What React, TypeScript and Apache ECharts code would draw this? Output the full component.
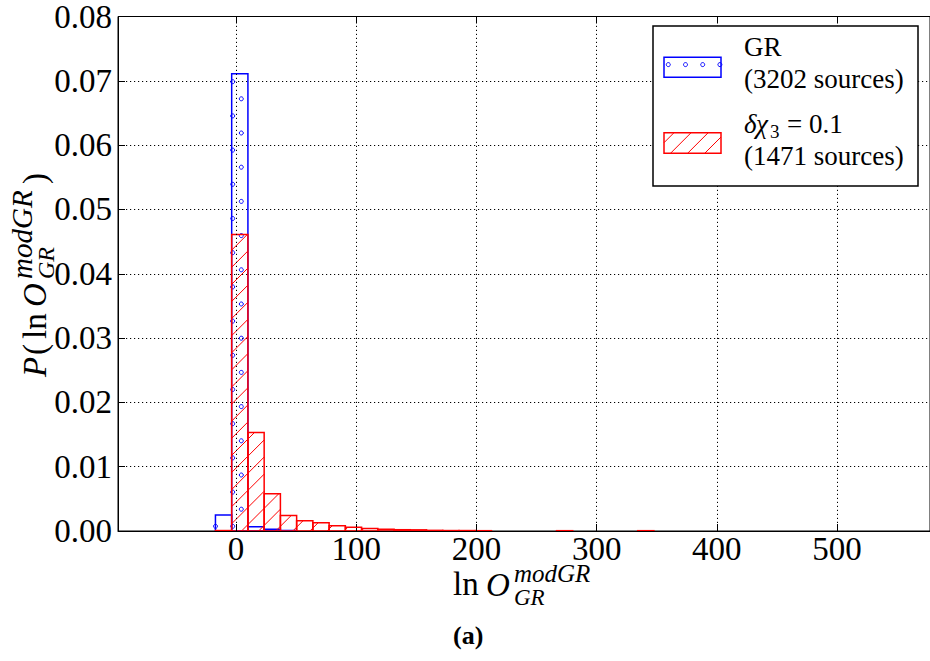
import React, { useEffect, useRef } from 'react';
import * as echarts from 'echarts';

// Histogram bins (lower edges) shared by both samples, and their common width
const binLefts = [
  -17.14, -3.63, 9.88, 23.39, 36.9, 50.41, 63.92, 77.43, 90.94, 104.45,
  117.96, 131.47, 144.98, 158.49, 172.0, 185.51, 199.02, 212.53, 226.04,
  239.55, 253.06, 266.57, 280.08, 293.59, 307.1, 320.61, 334.12,
];
const binWidth = 13.51;

// Normalised densities P(ln O) per bin
const grDensity = [
  0.0025, 0.0711, 0.00066, 0.00026, 0.00008, 0, 0, 0, 0, 0,
  0, 0, 0, 0, 0, 0, 0, 0, 0,
  0, 0, 0, 0, 0, 0, 0, 0,
];
const dchiDensity = [
  0.00007, 0.0461, 0.0153, 0.0058, 0.0024, 0.0016, 0.0013, 0.0008, 0.0006, 0.0004,
  0.00026, 0.0002, 0.00018, 0.0001, 0.00007, 0.00007, 0.00005, 0, 0,
  0, 0, 0.00005, 0, 0, 0, 0, 0.00005,
];

const xTicks = [0, 100, 200, 300, 400, 500];
const xRange = [-98.2, 577.3];
const yRange = [0, 0.08];
const yStep = 0.01;

const grLegend = ['GR', '(3202 sources)'];
const dchiLegend = ['δχ', '3', '= 0.1', '(1471 sources)'];

const SERIF = 'Liberation Serif';
const BLUE = '#0000ff';
const RED = '#ff0000';
const HATCH = 17.1;

// "/" hatch lines clipped to a rectangle (screen coords)
function hatchLines(x0: number, y0: number, x1: number, y1: number, color: string) {
  const out: any[] = [];
  const off = 3;
  let n = Math.ceil((x0 + y0 - off) / HATCH);
  for (;;) {
    const c = off + n * HATCH;
    if (c > x1 + y1) break;
    const xa = Math.max(x0, c - y1);
    const xb = Math.min(x1, c - y0);
    if (xb - xa > 0.3) {
      out.push({
        type: 'line',
        shape: { x1: xa, y1: c - xa, x2: xb, y2: c - xb },
        style: { stroke: color, lineWidth: 1 },
        silent: true,
      });
    }
    n++;
  }
  return out;
}

// small open circles on an offset lattice inside a rectangle
function dotCircles(x0: number, y0: number, x1: number, y1: number, color: string, colX = 232.7) {
  const out: any[] = [];
  const rowY = 81.7;
  const dx = 17.2;
  const n0 = Math.ceil((y0 - rowY) / HATCH);
  const n1 = Math.floor((y1 - rowY) / HATCH);
  for (let n = n0; n <= n1; n++) {
    const cy = rowY + n * HATCH;
    const shift = ((n % 2) + 2) % 2 === 0 ? 0 : dx / 2;
    const base = colX + shift;
    let m = Math.ceil((x0 - base) / dx);
    for (;;) {
      const cx = base + m * dx;
      if (cx > x1) break;
      out.push({
        type: 'circle',
        shape: { cx, cy, r: 2 },
        style: { fill: 'none', stroke: color, lineWidth: 1 },
        silent: true,
      });
      m++;
    }
  }
  return out;
}

function histSeries(name: string, values: number[], color: string, kind: 'dots' | 'hatch', z: number) {
  return {
    name,
    type: 'custom',
    coordinateSystem: 'cartesian2d',
    xAxisIndex: 0,
    yAxisIndex: 0,
    clip: true,
    z,
    silent: true,
    data: binLefts.map((l, i) => [l, values[i]]),
    renderItem: (_params: any, api: any) => {
      const left = api.value(0);
      const h = api.value(1);
      if (!h) return { type: 'group', children: [] };
      const p0 = api.coord([left, h]);
      const p1 = api.coord([left + binWidth, 0]);
      const x0 = p0[0];
      const y0 = p0[1];
      const x1 = p1[0];
      const y1 = p1[1];
      const pattern = kind === 'dots' ? dotCircles(x0, y0, x1, y1, color) : hatchLines(x0, y0, x1, y1, color);
      return {
        type: 'group',
        children: [
          ...pattern,
          {
            type: 'rect',
            shape: { x: x0, y: y0, width: x1 - x0, height: y1 - y0 },
            style: { fill: 'none', stroke: color, lineWidth: 1.5 },
          },
        ],
      };
    },
  };
}

// text placed by its alphabetic baseline
function txt(text: string, x: number, baseline: number, size: number, opts: { italic?: boolean; bold?: boolean } = {}) {
  return {
    type: 'text',
    x,
    y: baseline - 0.34 * size,
    silent: true,
    z: 100,
    style: {
      text,
      fontFamily: SERIF,
      fontSize: size,
      fontStyle: opts.italic ? 'italic' : 'normal',
      fontWeight: opts.bold ? 'bold' : 'normal',
      fill: '#000',
      align: 'left',
      verticalAlign: 'middle',
      textAlign: 'left',
      textVerticalAlign: 'middle',
    },
  };
}

export default function App() {
  const ref = useRef<HTMLDivElement>(null);

  useEffect(() => {
    if (!ref.current) return;
    const chart = echarts.init(ref.current, undefined, { renderer: 'svg' });

    const dotted = { color: '#000', width: 1, type: [1.2, 2.8] as any };

    const legendBox = { x: 653, y: 26, w: 265, h: 160 };
    const grPatch = { x: 664, y: 57.3, w: 57, h: 20 };
    const dchiPatch = { x: 664, y: 132.7, w: 57, h: 20.6 };

    // legend swatches, each element lifted above the white legend frame
    const swatches: any[] = [
      ...dotCircles(grPatch.x, grPatch.y, grPatch.x + grPatch.w, grPatch.y + grPatch.h, BLUE, 229.7),
      {
        type: 'rect',
        shape: { x: grPatch.x, y: grPatch.y, width: grPatch.w, height: grPatch.h },
        style: { fill: 'none', stroke: BLUE, lineWidth: 1.5 },
      },
      ...hatchLines(dchiPatch.x, dchiPatch.y, dchiPatch.x + dchiPatch.w, dchiPatch.y + dchiPatch.h, RED),
      {
        type: 'rect',
        shape: { x: dchiPatch.x, y: dchiPatch.y, width: dchiPatch.w, height: dchiPatch.h },
        style: { fill: 'none', stroke: RED, lineWidth: 1.5 },
      },
    ].map((el) => ({ ...el, z: 96, silent: true }));

    const graphic: any[] = [
      // x-axis title: ln O^{modGR}_{GR}
      txt('ln', 453, 595, 33),
      txt('O', 486, 596, 33, { italic: true }),
      txt('modGR', 514, 582, 25, { italic: true }),
      txt('GR', 514, 605, 23, { italic: true }),
      // panel caption
      txt('(a)', 453, 644, 26, { bold: true }),
      // y-axis title: P(ln O^{modGR}_{GR}), rotated
      {
        type: 'group',
        x: 46,
        y: 377,
        rotation: Math.PI / 2,
        children: [
          txt('P', 0, 0, 33, { italic: true }),
          txt('(', 22, 0, 33),
          txt('ln', 38, 0, 33),
          txt('O', 70, 0, 33, { italic: true }),
          txt('modGR', 98, -14, 29, { italic: true }),
          txt('GR', 98, 8, 24, { italic: true }),
          txt(')', 193, 0, 33),
        ],
      },
      // legend frame
      {
        type: 'rect',
        z: 90,
        silent: true,
        shape: { x: legendBox.x, y: legendBox.y, width: legendBox.w, height: legendBox.h },
        style: { fill: '#fff', stroke: '#000', lineWidth: 1.5 },
      },
      ...swatches,
      txt(grLegend[0], 744, 56.5, 27),
      txt(grLegend[1], 744, 88, 27),
      txt(dchiLegend[0], 744, 133, 27, { italic: true }),
      txt(dchiLegend[1], 770, 138, 19),
      txt(dchiLegend[2], 787, 133, 27),
      txt(dchiLegend[3], 744, 165, 27),
    ];

    const option: any = {
      animation: false,
      backgroundColor: '#fff',
      textStyle: { fontFamily: SERIF },
      grid: {
        left: 118,
        top: 12,
        right: -2,
        bottom: 130,
        show: true,
        borderColor: '#000',
        borderWidth: 1,
        backgroundColor: 'transparent',
      },
      xAxis: [
        {
          type: 'value',
          min: xRange[0],
          max: xRange[1],
          position: 'bottom',
          axisLine: { show: true, onZero: false, lineStyle: { color: '#000', width: 1 } },
          axisTick: { show: true, inside: true, length: 7, customValues: xTicks, lineStyle: { color: '#000' } },
          axisLabel: { customValues: xTicks, fontFamily: SERIF, fontSize: 33, color: '#000', margin: 1 },
          splitLine: { show: false },
        },
        {
          type: 'value',
          min: xRange[0],
          max: xRange[1],
          position: 'top',
          axisLine: { show: false, onZero: false },
          axisTick: { show: true, inside: true, length: 7, customValues: xTicks, lineStyle: { color: '#000' } },
          axisLabel: { show: false },
          splitLine: { show: false },
        },
      ],
      yAxis: {
        type: 'value',
        min: yRange[0],
        max: yRange[1],
        interval: yStep,
        axisLine: { show: true, onZero: false, lineStyle: { color: '#000', width: 1 } },
        axisTick: { show: true, inside: true, length: 7, lineStyle: { color: '#000' } },
        axisLabel: {
          fontFamily: SERIF,
          fontSize: 33,
          color: '#000',
          margin: 6,
          formatter: (v: number) => v.toFixed(2),
        },
        splitLine: { show: true, lineStyle: dotted },
      },
      series: [
        {
          type: 'line',
          data: [],
          silent: true,
          z: 1,
          markLine: {
            silent: true,
            symbol: ['none', 'none'],
            label: { show: false },
            lineStyle: dotted,
            data: xTicks.map((v) => ({ xAxis: v })),
          },
        },
        histSeries('GR', grDensity, BLUE, 'dots', 3),
        histSeries('dchi', dchiDensity, RED, 'hatch', 4),
      ],
      graphic,
    };

    chart.setOption(option);
    return () => chart.dispose();
  }, []);

  return (
    <div
      ref={ref}
      style={{ position: 'absolute', left: 0, top: 0, width: 930, height: 661, background: '#fff' }}
    />
  );
}
